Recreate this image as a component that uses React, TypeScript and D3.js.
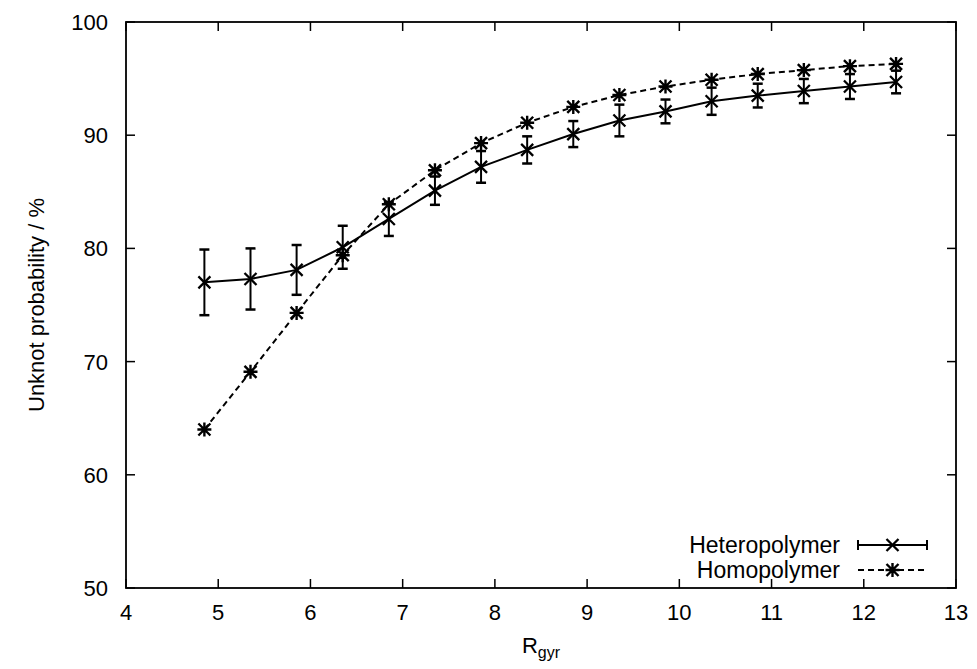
import React from "react";
import * as d3 from "d3";

const rgyr = [4.85, 5.35, 5.85, 6.35, 6.85, 7.35, 7.85, 8.35, 8.85, 9.35, 9.85, 10.35, 10.85, 11.35, 11.85, 12.35];
const heteroValues = [77.0, 77.3, 78.1, 80.1, 82.6, 85.1, 87.2, 88.7, 90.1, 91.3, 92.1, 93.0, 93.5, 93.9, 94.3, 94.7];
const heteroErrors = [2.9, 2.7, 2.2, 1.9, 1.5, 1.25, 1.4, 1.2, 1.15, 1.4, 1.05, 1.2, 1.05, 1.07, 1.1, 1.0];
const homoValues = [64.0, 69.1, 74.3, 79.4, 83.9, 86.9, 89.3, 91.1, 92.5, 93.55, 94.3, 94.9, 95.4, 95.75, 96.1, 96.3];
const xTicks = [4, 5, 6, 7, 8, 9, 10, 11, 12, 13];
const yTicks = [50, 60, 70, 80, 90, 100];
const seriesNames = ["Heteropolymer", "Homopolymer"];

const W = 977;
const H = 669;
const m = { left: 126, right: 956, top: 22, bottom: 588 };
const font = "'Liberation Sans', Arial, sans-serif";

export default function App() {
  const x = d3.scaleLinear().domain([4, 13]).range([m.left, m.right]);
  const y = d3.scaleLinear().domain([50, 100]).range([m.bottom, m.top]);
  const line = d3
    .line<number>()
    .x((_, i) => x(rgyr[i]))
    .y((d) => y(d));
  const tick = 9;
  const cap = 5;
  const ms = 6;

  const cross = (cx: number, cy: number, key: string) => (
    <path
      key={key}
      d={`M${cx - ms},${cy - ms}L${cx + ms},${cy + ms}M${cx - ms},${cy + ms}L${cx + ms},${cy - ms}`}
      stroke="#000"
      strokeWidth={2.3}
    />
  );
  const star = (cx: number, cy: number, key: string) => (
    <path
      key={key}
      d={`M${cx - ms},${cy - ms}L${cx + ms},${cy + ms}M${cx - ms},${cy + ms}L${cx + ms},${cy - ms}M${cx},${cy - ms - 1}L${cx},${cy + ms + 1}M${cx - ms - 1},${cy}L${cx + ms + 1},${cy}`}
      stroke="#000"
      strokeWidth={2.4}
    />
  );

  const legX1 = 858;
  const legX2 = 927;
  const legXm = (legX1 + legX2) / 2;
  const legY1 = 545;
  const legY2 = 570;
  const fs = 22;
  const lfs = 23;

  return (
    <svg
      width={W}
      height={H}
      style={{ position: "absolute", left: 0, top: 0, background: "#fff" }}
      fontFamily={font}
    >
      <rect x={0} y={0} width={W} height={H} fill="#fff" />
      {xTicks.map((t) => (
        <g key={"xt" + t}>
          <line x1={x(t)} x2={x(t)} y1={m.bottom} y2={m.bottom - tick} stroke="#000" strokeWidth={1.5} />
          <line x1={x(t)} x2={x(t)} y1={m.top} y2={m.top + tick} stroke="#000" strokeWidth={1.5} />
          <text x={x(t)} y={m.bottom + 32} textAnchor="middle" fontSize={fs}>
            {t}
          </text>
        </g>
      ))}
      {yTicks.map((t) => (
        <g key={"yt" + t}>
          <line x1={m.left} x2={m.left + tick} y1={y(t)} y2={y(t)} stroke="#000" strokeWidth={1.5} />
          <line x1={m.right} x2={m.right - tick} y1={y(t)} y2={y(t)} stroke="#000" strokeWidth={1.5} />
          <text x={m.left - 18} y={y(t) + 8} textAnchor="end" fontSize={fs}>
            {t}
          </text>
        </g>
      ))}
      <rect
        x={m.left}
        y={m.top}
        width={m.right - m.left}
        height={m.bottom - m.top}
        fill="none"
        stroke="#000"
        strokeWidth={1.8}
      />
      <text x={x(8.5)} y={653} textAnchor="middle" fontSize={fs}>
        R<tspan fontSize={16} dy={5}>gyr</tspan>
      </text>
      <text
        transform={`translate(44,${(m.top + m.bottom) / 2}) rotate(-90)`}
        textAnchor="middle"
        fontSize={fs}
      >
        Unknot probability / %
      </text>
      <path d={line(homoValues) || ""} fill="none" stroke="#000" strokeWidth={2} strokeDasharray="6,4" />
      {homoValues.map((v, i) => star(x(rgyr[i]), y(v), "hs" + i))}
      <path d={line(heteroValues) || ""} fill="none" stroke="#000" strokeWidth={2} />
      {heteroValues.map((v, i) => {
        const cx = x(rgyr[i]);
        const yt = y(v + heteroErrors[i]);
        const yb = y(v - heteroErrors[i]);
        return (
          <g key={"he" + i}>
            <line x1={cx} x2={cx} y1={yt} y2={yb} stroke="#000" strokeWidth={2} />
            <line x1={cx - cap} x2={cx + cap} y1={yt} y2={yt} stroke="#000" strokeWidth={2.5} />
            <line x1={cx - cap} x2={cx + cap} y1={yb} y2={yb} stroke="#000" strokeWidth={2.5} />
          </g>
        );
      })}
      {heteroValues.map((v, i) => cross(x(rgyr[i]), y(v), "hc" + i))}
      <text x={840} y={legY1 + 8} textAnchor="end" fontSize={lfs}>
        {seriesNames[0]}
      </text>
      <line x1={legX1} x2={legX2} y1={legY1} y2={legY1} stroke="#000" strokeWidth={2} />
      <line x1={legX1} x2={legX1} y1={legY1 - cap} y2={legY1 + cap} stroke="#000" strokeWidth={2} />
      <line x1={legX2} x2={legX2} y1={legY1 - cap} y2={legY1 + cap} stroke="#000" strokeWidth={2} />
      {cross(legXm, legY1, "lc")}
      <text x={840} y={legY2 + 8} textAnchor="end" fontSize={lfs}>
        {seriesNames[1]}
      </text>
      <line x1={legX1} x2={legX2} y1={legY2} y2={legY2} stroke="#000" strokeWidth={2} strokeDasharray="6,4" />
      {star(legXm, legY2, "ls")}
    </svg>
  );
}
